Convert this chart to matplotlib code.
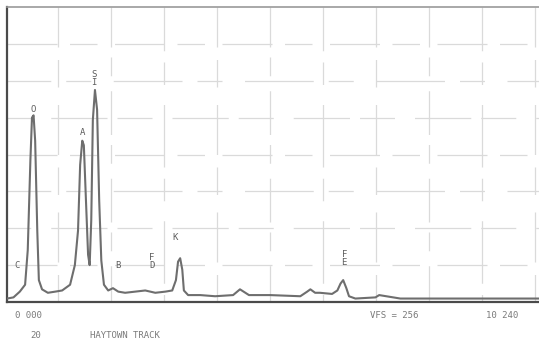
import matplotlib
matplotlib.use("Agg")
import matplotlib.pyplot as plt

# Spectrum trace (energy in keV, counts)
energy = [0.03, 0.15, 0.27, 0.37, 0.42, 0.47, 0.50, 0.53, 0.56, 0.60, 0.63, 0.69,
          0.80, 0.94, 1.07, 1.22, 1.31, 1.37, 1.41, 1.45, 1.48, 1.52, 1.56, 1.59,
          1.62, 1.65, 1.69, 1.73, 1.77, 1.81, 1.86, 1.94, 2.03, 2.13, 2.26, 2.45,
          2.64, 2.83, 3.02, 3.15, 3.22, 3.26, 3.30, 3.34, 3.37, 3.45, 3.68, 3.96,
          4.30, 4.43, 4.60, 5.00, 5.57, 5.70, 5.76, 5.85, 5.94, 6.17, 6.27, 6.33,
          6.38, 6.44, 6.49, 6.61, 6.99, 7.06, 7.46, 8.40, 9.35, 10.08]
counts = [3, 4, 9, 15, 45, 123, 160, 162, 140, 62, 19, 11,
          8, 9, 10, 15, 32, 62, 119, 140, 136, 88, 41, 32,
          71, 158, 184, 167, 88, 36, 15, 10, 12, 9, 8, 9,
          10, 8, 9, 10, 19, 35, 38, 28, 10, 6, 6, 5,
          6, 11, 6, 6, 5, 9, 11, 8, 8, 7, 10, 16,
          19, 12, 5, 3, 4, 6, 3, 3, 3, 3]

# Peak labels
label_text = ["C", "O", "A", "S\nI", "B", "F\nD", "K", "F\nE"]
label_x = [0.22, 0.52, 1.45, 1.67, 2.13, 2.77, 3.20, 6.40]
label_y = [28, 163, 143, 187, 28, 28, 52, 30]

x_gridlines = [1, 2, 3, 4, 5, 6, 7, 8, 9, 10]
y_gridlines = [32, 64, 96, 128, 160, 192, 224]

W, H = 539, 344
fig = plt.figure(figsize=(W / 100, H / 100), dpi=100)
fig.patch.set_facecolor("white")
ax = fig.add_axes([7 / W, (H - 302) / H, 532 / W, 295 / H])
ax.set_xlim(0.028, 10.08)
ax.set_ylim(0, 256)

grid_col = "#dadada"
v_styles = [(0, (22, 10, 40, 14)), (6, (35, 12, 15, 8)), (12, (18, 9, 50, 16))]
h_styles = [(0, (40, 10, 22, 14)), (9, (28, 16, 45, 8)), (20, (55, 12, 20, 18))]
for i, gx in enumerate(x_gridlines):
    ax.axvline(gx, color=grid_col, lw=0.9, ls=v_styles[i % 3], zorder=1)
for i, gy in enumerate(y_gridlines):
    ax.axhline(gy, color=grid_col, lw=0.9, ls=h_styles[i % 3], zorder=1)

ax.plot(energy, counts, color="#6e6e6e", lw=1.5, zorder=3)

for t, x, y in zip(label_text, label_x, label_y):
    ax.text(x, y, t, ha="center", va="bottom", fontsize=6.5, color="#5e5e5e",
            family="DejaVu Sans Mono", linespacing=0.85, zorder=4)

for s in ["left", "bottom"]:
    ax.spines[s].set_color("#4a4a4a")
    ax.spines[s].set_linewidth(1.6)
ax.spines["top"].set_color("#9a9a9a")
ax.spines["top"].set_linewidth(1.2)
ax.spines["right"].set_visible(False)
ax.set_xticks([])
ax.set_yticks([])

txt_kw = dict(fontsize=6.5, color="#7a7a7a", family="DejaVu Sans Mono", va="center")
fig.text(15 / W, 1 - 316 / H, "0 000", **txt_kw)
fig.text(370 / W, 1 - 316 / H, "VFS = 256", **txt_kw)
fig.text(486 / W, 1 - 316 / H, "10 240", **txt_kw)
fig.text(30 / W, 1 - 336 / H, "20", **txt_kw)
fig.text(90 / W, 1 - 336 / H, "HAYTOWN TRACK", **txt_kw)

fig.savefig("out.png", dpi=100, facecolor="white")
